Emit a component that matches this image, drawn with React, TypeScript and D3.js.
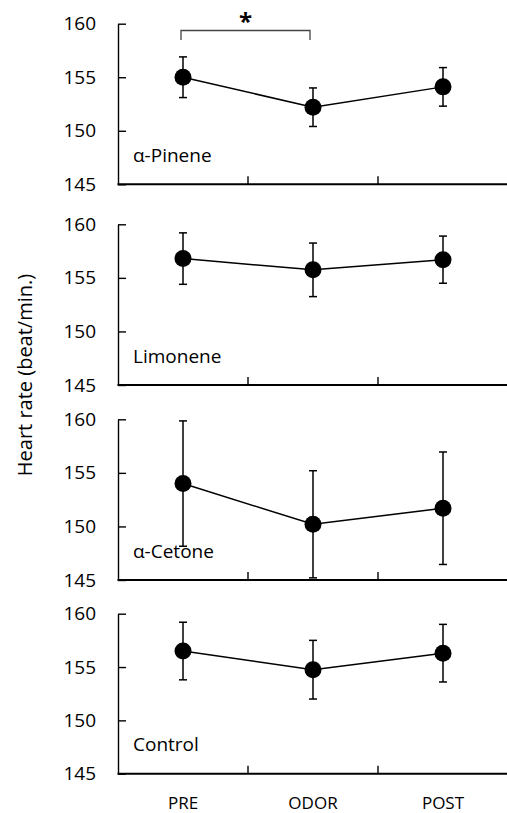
import React, { useEffect, useRef } from "react";
import * as d3 from "d3";

const categories = ["PRE", "ODOR", "POST"];
const odorNames = ["α-Pinene", "Limonene", "α-Cetone", "Control"];
const yTicks = [145, 150, 155, 160];

// mean heart rate per phase
const pineneMean = [155.0, 152.2, 154.1];
const limoneneMean = [156.8, 155.75, 156.7];
const cetoneMean = [154.0, 150.2, 151.7];
const controlMean = [156.5, 154.75, 156.3];

// error bars (±)
const pineneErr = [1.9, 1.8, 1.8];
const limoneneErr = [2.4, 2.5, 2.2];
const cetoneErr = [5.85, 5.0, 5.25];
const controlErr = [2.7, 2.75, 2.7];

const means = [pineneMean, limoneneMean, cetoneMean, controlMean];
const errs = [pineneErr, limoneneErr, cetoneErr, controlErr];

const W = 507;
const H = 813;
const FONT = "'Open Sans', sans-serif";
const panelTop = [23.7, 224.3, 419.3, 613.7];
const panelBottom = [184.3, 385, 580, 773.7];

const App = () => {
  const ref = useRef<SVGSVGElement>(null);

  useEffect(() => {
    const svg = d3.select(ref.current);
    svg.selectAll("*").remove();

    const x = d3.scaleBand().domain(categories).range([118, 508]);
    const cx = (c: string) => (x(c) as number) + x.bandwidth() / 2;

    means.forEach((vals, p) => {
      const y = d3.scaleLinear().domain([145, 160]).range([panelBottom[p], panelTop[p]]);
      const g = svg.append("g");

      // y axis with inward ticks
      const yAxis = d3
        .axisLeft(y)
        .tickValues(yTicks)
        .tickSizeInner(-8)
        .tickSizeOuter(0)
        .tickPadding(22)
        .tickFormat(d3.format("d"));
      const ya = g.append("g").attr("transform", "translate(118,0)").call(yAxis);
      ya.select(".domain").attr("stroke", "#000").attr("stroke-width", 1.4);
      ya.selectAll(".tick line").attr("stroke", "#000").attr("stroke-width", 1.4);
      ya.selectAll(".tick text")
        .attr("font-family", FONT)
        .attr("font-size", 19)
        .attr("fill", "#000");

      // x axis baseline and inner ticks at band boundaries
      g.append("line")
        .attr("x1", 117.5)
        .attr("x2", W)
        .attr("y1", panelBottom[p])
        .attr("y2", panelBottom[p])
        .attr("stroke", "#000")
        .attr("stroke-width", 2);
      g.selectAll(".xt")
        .data(categories.slice(1))
        .join("line")
        .attr("x1", (c) => x(c) as number)
        .attr("x2", (c) => x(c) as number)
        .attr("y1", panelBottom[p])
        .attr("y2", panelBottom[p] - 8)
        .attr("stroke", "#000")
        .attr("stroke-width", 1.4);

      // connecting line
      const line = d3
        .line<number>()
        .x((_, i) => cx(categories[i]))
        .y((d) => y(d));
      g.append("path")
        .attr("d", line(vals))
        .attr("fill", "none")
        .attr("stroke", "#000")
        .attr("stroke-width", 1.5);

      // error bars
      const e = errs[p];
      vals.forEach((v, i) => {
        const xc = cx(categories[i]);
        g.append("line")
          .attr("x1", xc).attr("x2", xc)
          .attr("y1", y(v - e[i])).attr("y2", y(v + e[i]))
          .attr("stroke", "#000").attr("stroke-width", 1.5);
        [v - e[i], v + e[i]].forEach((t) => {
          g.append("line")
            .attr("x1", xc - 4).attr("x2", xc + 4)
            .attr("y1", y(t)).attr("y2", y(t))
            .attr("stroke", "#000").attr("stroke-width", 1.5);
        });
      });

      // points
      g.selectAll("circle")
        .data(vals)
        .join("circle")
        .attr("cx", (_, i) => cx(categories[i]))
        .attr("cy", (d) => y(d))
        .attr("r", 8.5)
        .attr("fill", "#000");

      // panel label
      g.append("text")
        .attr("x", 133)
        .attr("y", panelBottom[p] - 22.5)
        .attr("font-family", FONT)
        .attr("font-size", 19)
        .text(odorNames[p]);

      // x labels on last panel
      if (p === means.length - 1) {
        g.selectAll(".xl")
          .data(categories)
          .join("text")
          .attr("x", (c) => cx(c))
          .attr("y", panelBottom[p] + 35)
          .attr("text-anchor", "middle")
          .attr("font-family", FONT)
          .attr("font-size", 17)
          .text((c) => c);
      }

      // significance bracket (PRE vs ODOR, α-Pinene)
      if (p === 0) {
        const x1 = cx("PRE") - 2;
        const x2 = cx("ODOR") - 3;
        g.append("path")
          .attr("d", `M${x1},40 V30.5 H${x2} V40`)
          .attr("fill", "none")
          .attr("stroke", "#444")
          .attr("stroke-width", 1.3);
        g.append("text")
          .attr("x", (x1 + x2) / 2)
          .attr("y", 30)
          .attr("text-anchor", "middle")
          .attr("font-family", FONT)
          .attr("font-size", 24)
          .attr("font-weight", "bold")
          .text("*");
      }
    });

    // y axis title
    svg.append("text")
      .attr("transform", "translate(32,375) rotate(-90)")
      .attr("text-anchor", "middle")
      .attr("font-family", FONT)
      .attr("font-size", 20)
      .text("Heart rate (beat/min.)");
  }, []);

  return (
    <div style={{ position: "absolute", left: 0, top: 0 }}>
      <svg ref={ref} width={W} height={H} style={{ display: "block", background: "#fff" }} />
    </div>
  );
};

export default App;
